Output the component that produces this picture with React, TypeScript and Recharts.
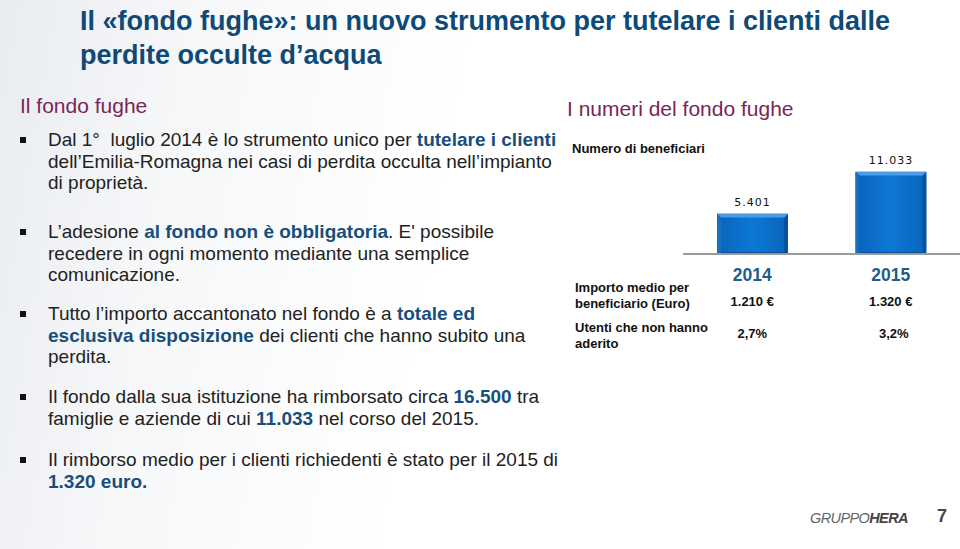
import { BarChart, Bar, XAxis, YAxis, LabelList } from "recharts";

const years = ["2014", "2015"];
const beneficiari = [5401, 11033];
const importoMedio = [1210, 1320];
const nonAderito = [2.7, 3.2];

const BLUE = "#0e4a77";
const PURPLE = "#7a2658";
const FONT = "'Liberation Sans', Arial, sans-serif";

function fmtThousands(n: number): string {
  return String(n).replace(/\B(?=(\d{3})+(?!\d))/g, ".");
}

function fmtPct(n: number): string {
  return n.toFixed(1).replace(".", ",") + "%";
}

const data = years.map((y, i) => ({ year: y, value: beneficiari[i] }));

function BevelBar(props: any) {
  const { x, y, width, height } = props;
  if (!height || height <= 0) return null;
  const b = 4;
  return (
    <g>
      <rect x={x} y={y} width={width} height={height} fill="#06519e" />
      <polygon
        points={`${x},${y} ${x + width},${y} ${x + width - b},${y + b} ${x + b},${y + b}`}
        fill="#4b9be6"
      />
      <polygon
        points={`${x},${y} ${x + b},${y + b} ${x + b},${y + height} ${x},${y + height}`}
        fill="#1670c4"
      />
      <rect x={x + b} y={y + b} width={width - 2 * b} height={height - b - 2} fill="url(#barFill)" />
    </g>
  );
}

function Bullet({ top, children }: { top: number; children: any }) {
  return (
    <div style={{ position: "absolute", left: 20, top, width: 600 }}>
      <div style={{ position: "absolute", left: 0, top: 8, width: 6, height: 6, background: "#111" }} />
      <div style={{ marginLeft: 28, fontSize: 19, lineHeight: "21.5px", color: "#222", whiteSpace: "nowrap" }}>{children}</div>
    </div>
  );
}

const hl = { color: "#174f7c", fontWeight: 700 } as const;

// chart geometry
const CHART_LEFT = 683;
const CHART_TOP = 90;
const CHART_W = 277;
const CHART_H = 200;
const colCenter = (i: number) => CHART_LEFT + (CHART_W / years.length) * (i + 0.5);

export default function App() {
  return (
    <div
      style={{
        position: "absolute",
        left: 0,
        top: 0,
        width: 960,
        height: 549,
        overflow: "hidden",
        fontFamily: FONT,
        background: "linear-gradient(100deg, #e9ecf0 0%, #f6f7f9 18%, #ffffff 45%)",
      }}
    >
      <div style={{ position: "absolute", left: 80, top: 4, fontSize: 27, lineHeight: "34px", fontWeight: 700, color: BLUE, whiteSpace: "nowrap" }}>
        Il «fondo fughe»: un nuovo strumento per tutelare i clienti dalle
        <br />
        perdite occulte d’acqua
      </div>

      <div style={{ position: "absolute", left: 20, top: 94, fontSize: 21, color: PURPLE }}>Il fondo fughe</div>
      <div style={{ position: "absolute", left: 567, top: 97, fontSize: 21, color: PURPLE }}>I numeri del fondo fughe</div>

      <Bullet top={129}>
        Dal 1°&nbsp; luglio 2014 è lo strumento unico per <span style={hl}>tutelare i clienti</span>
        <br />
        dell’Emilia-Romagna nei casi di perdita occulta nell’impianto
        <br />
        di proprietà.
      </Bullet>
      <Bullet top={221}>
        L’adesione <span style={hl}>al fondo non è obbligatoria</span>. E' possibile
        <br />
        recedere in ogni momento mediante una semplice
        <br />
        comunicazione.
      </Bullet>
      <Bullet top={303}>
        Tutto l’importo accantonato nel fondo è a <span style={hl}>totale ed</span>
        <br />
        <span style={hl}>esclusiva disposizione</span> dei clienti che hanno subito una
        <br />
        perdita.
      </Bullet>
      <Bullet top={386}>
        Il fondo dalla sua istituzione ha rimborsato circa <span style={hl}>16.500</span> tra
        <br />
        famiglie e aziende di cui <span style={hl}>11.033</span> nel corso del 2015.
      </Bullet>
      <Bullet top={449}>
        Il rimborso medio per i clienti richiedenti è stato per il 2015 di
        <br />
        <span style={hl}>1.320 euro.</span>
      </Bullet>

      <div style={{ position: "absolute", left: 572, top: 141, fontSize: 13, fontWeight: 700, color: "#111" }}>
        Numero di beneficiari
      </div>

      <div style={{ position: "absolute", left: CHART_LEFT, top: CHART_TOP }}>
        <BarChart width={CHART_W} height={CHART_H} data={data} margin={{ top: 15, right: 0, left: 0, bottom: 0 }} barSize={71}>
          <defs>
            <linearGradient id="barFill" x1="0" y1="0" x2="1" y2="0">
              <stop offset="0%" stopColor="#0a66bd" />
              <stop offset="50%" stopColor="#0c78d4" />
              <stop offset="100%" stopColor="#0a66bd" />
            </linearGradient>
          </defs>
          <XAxis
            dataKey="year"
            height={CHART_H - 15 - 149}
            axisLine={{ stroke: "#9a9a9a", strokeWidth: 2 }}
            tickLine={false}
            tickMargin={9}
            tick={{ fontSize: 17.5, fontWeight: 700, fill: "#1f5d8a", fontFamily: FONT }}
          />
          <YAxis hide domain={[0, 20000]} />
          <Bar dataKey="value" shape={BevelBar} isAnimationActive={false}>
            <LabelList
              dataKey="value"
              position="top"
              offset={8}
              formatter={(v: any) => fmtThousands(Number(v))}
              style={{ fontSize: 11, fontFamily: "'DejaVu Sans', sans-serif", letterSpacing: 1, fill: "#111" }}
            />
          </Bar>
        </BarChart>
      </div>

      <div style={{ position: "absolute", left: 575, top: 280, fontSize: 13, lineHeight: "16px", fontWeight: 700, color: "#111" }}>
        Importo medio per
        <br />
        beneficiario (Euro)
      </div>
      <div style={{ position: "absolute", left: 575, top: 320, fontSize: 13, lineHeight: "16px", fontWeight: 700, color: "#111" }}>
        Utenti che non hanno
        <br />
        aderito
      </div>
      {years.map((y, i) => (
        <div key={"imp" + y}>
          <div
            style={{
              position: "absolute",
              left: colCenter(i) - 50,
              width: 100,
              top: 294,
              textAlign: "center",
              fontSize: 13,
              fontWeight: 700,
              color: "#111",
            }}
          >
            {fmtThousands(importoMedio[i])} €
          </div>
          <div
            style={{
              position: "absolute",
              left: colCenter(i) - 50 + i * 3,
              width: 100,
              top: 326,
              textAlign: "center",
              fontSize: 13,
              fontWeight: 700,
              color: "#111",
            }}
          >
            {fmtPct(nonAderito[i])}
          </div>
        </div>
      ))}

      <div style={{ position: "absolute", left: 810, top: 510, fontSize: 14.5, fontStyle: "italic", color: "#666", letterSpacing: -0.6 }}>
        GRUPPO<span style={{ fontWeight: 700, color: "#444" }}>HERA</span>
      </div>
      <div style={{ position: "absolute", left: 937, top: 506, fontSize: 18, fontWeight: 700, color: "#444" }}>7</div>
    </div>
  );
}
